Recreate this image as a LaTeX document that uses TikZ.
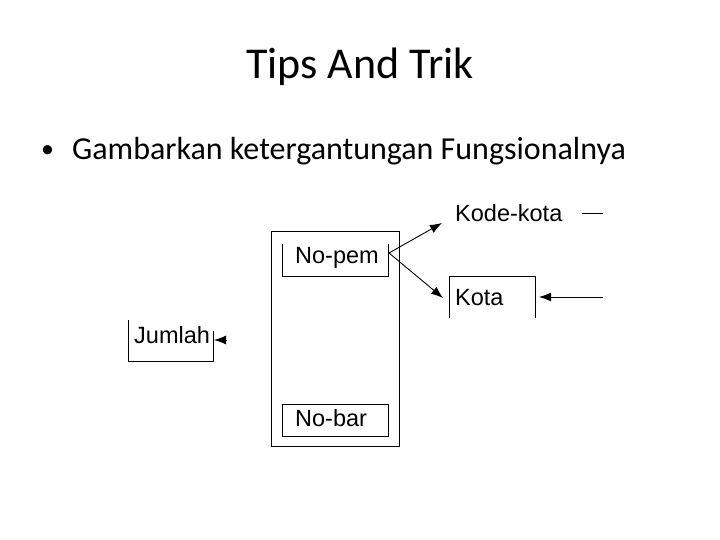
\documentclass[tikz,border=0pt]{standalone}
\usepackage{fontspec}
\setmainfont{Carlito}
\newfontfamily\diagfont{Liberation Sans}
\usetikzlibrary{arrows.meta}

\tikzset{
	lbl/.style={anchor=base west, inner sep=0pt, font=\diagfont\fontsize{23.5}{26}\selectfont},
	ln/.style={line width=0.9pt},
	fd/.style={ln, -{Latex[length=12pt,width=9pt]}},
}

\begin{document}
\begin{tikzpicture}[x=1pt,y=-1pt]
		\useasboundingbox (0,0) rectangle (720,540);
		% slide text
		\node (title) [anchor=base, inner sep=0pt, font=\fontsize{44}{48}\selectfont] at (360,79) {Tips And Trik};
		\node (dot) [anchor=base west, inner sep=0pt, font=\fontsize{26}{30}\selectfont] at (41,158) {\textbullet};
		\node (bul) [anchor=base west, inner sep=0pt, font=\fontsize{32}{36}\selectfont] at (72,160) {Gambarkan ketergantungan Fungsionalnya};
		% boxes
		\draw [ln] (271,231) rectangle (399,446);
		\draw [ln] (282,244) -- (282,276) -- (388,276) -- (388,244);
		\draw [ln] (282,404) rectangle (388,436);
		\draw [ln] (449,318) -- (449,276) -- (535,276) -- (535,318);
		\draw [ln] (128,320) -- (128,361) -- (213,361) -- (213,331);
		% attributes
		\node (nopem) [lbl] at (295,263) {No-pem};
		\node (nobar) [lbl] at (295,426) {No-bar};
		\node (kodekota) [lbl] at (455,222) {Kode-kota};
		\node (kota) [lbl] at (455,305) {Kota};
		\node (jumlah) [lbl] at (134,343) {Jumlah};
		\coordinate (src) at (389,253);
		\coordinate (kkin) at (442,223);
		\coordinate (kin) at (443,298);
		\coordinate (kr) at (603,297);
		\coordinate (kl) at (539,297);
		\coordinate (kka) at (582,213);
		\coordinate (kkb) at (603,213);
		\coordinate (ja) at (226,340);
		\coordinate (jb) at (214,340);
		\draw [fd] (src) -- (kkin);
		\draw [fd] (src) -- (kin);
		\draw [fd] (kr) -- (kl);
		\draw [ln] (kka) -- (kkb);
		\draw [fd] (ja) -- (jb);
	\end{tikzpicture}
\end{document}
